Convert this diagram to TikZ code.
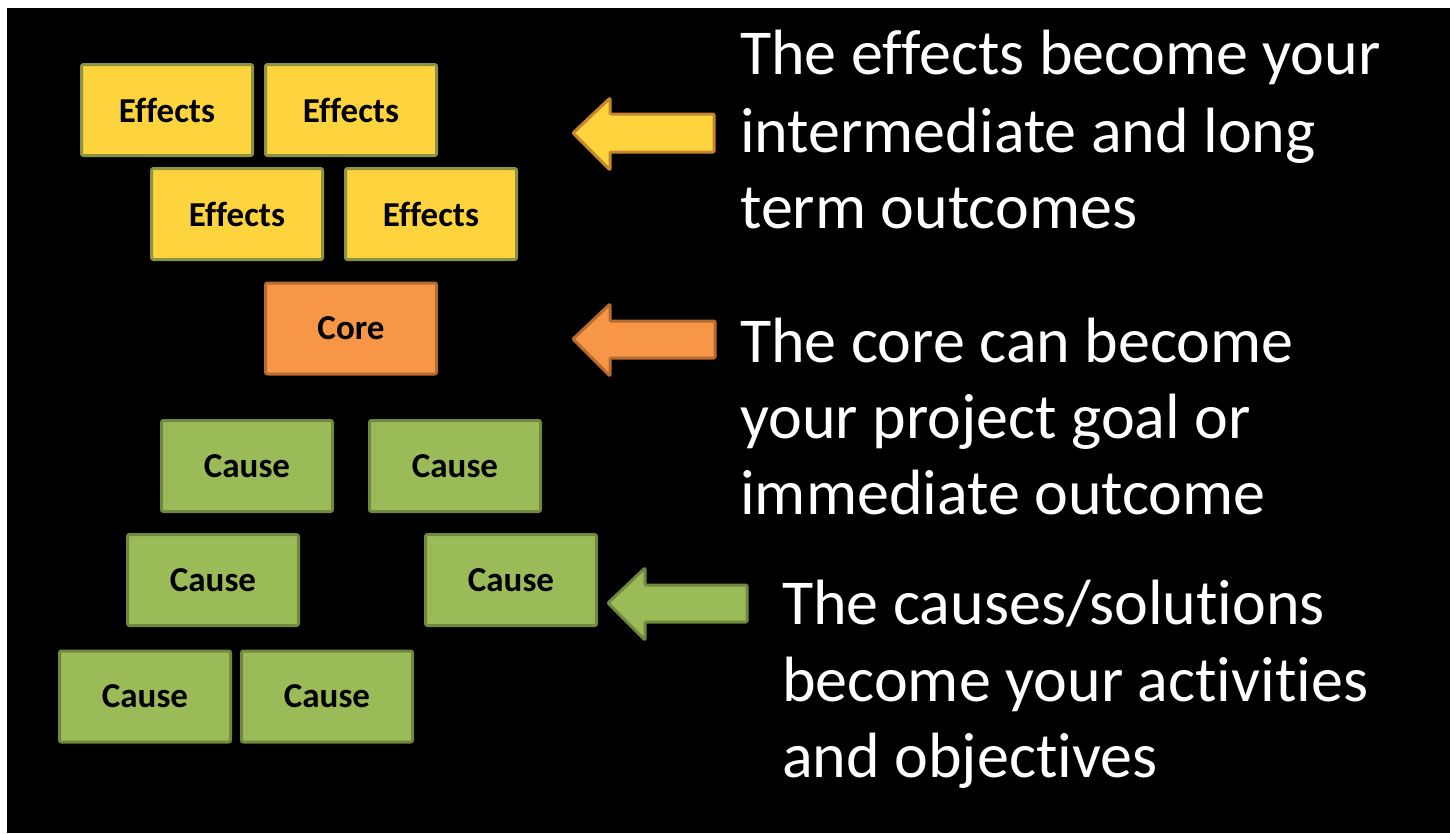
\documentclass[tikz,border=0pt]{standalone}
\usepackage{fontspec}
\setmainfont[Ligatures={NoCommon}]{Carlito}
\definecolor{yfill}{HTML}{FDD33E}
\definecolor{yedge}{HTML}{8C9444}
\definecolor{yarrowedge}{HTML}{C8862C}
\definecolor{ofill}{HTML}{F79646}
\definecolor{oedge}{HTML}{B66B30}
\definecolor{gfill}{HTML}{9BBB59}
\definecolor{gedge}{HTML}{71893F}
\tikzset{
  box/.style={draw, line width=3pt, rounded corners=2pt, minimum width=171pt, minimum height=91pt,
    inner sep=0pt, font=\fontsize{35}{40}\selectfont\bfseries, text=black},
  effbox/.style={box, fill=yfill, draw=yedge},
  corebox/.style={box, fill=ofill, draw=oedge},
  causebox/.style={box, fill=gfill, draw=gedge},
  blockarrow/.style={line width=3pt, line join=round, rounded corners=1pt},
  bigtext/.style={anchor=base west, inner sep=0pt, text=white, font=\fontsize{64}{77}\selectfont}
}
\begin{document}
\begin{tikzpicture}[x=1pt,y=-1pt]
\useasboundingbox (0,0) rectangle (1450,833);
\fill[white] (0,0) rectangle (1450,833);
\fill[black] (7,8) rectangle (1450,833);
% effects
\node[effbox] (E1) at (167,110) {Effects};
\node[effbox] (E2) at (351,110) {Effects};
\node[effbox] (E3) at (237,214) {Effects};
\node[effbox] (E4) at (431,214) {Effects};
% core
\node[corebox] (C) at (351,328.5) {Core};
% causes
\node[causebox] (K1) at (247,466) {Cause};
\node[causebox] (K2) at (455,466) {Cause};
\node[causebox] (K3) at (213,580) {Cause};
\node[causebox] (K4) at (511,580) {Cause};
\node[causebox] (K5) at (145,696.5) {Cause};
\node[causebox] (K6) at (327,696.5) {Cause};
% block arrows
\draw[blockarrow, fill=yfill, draw=yarrowedge]
  (573,133) -- (610,98) -- (610,114) -- (714,114) -- (714,152) -- (610,152) -- (610,170) -- cycle;
\draw[blockarrow, fill=ofill, draw=oedge]
  (573,339) -- (610,304) -- (610,321) -- (715,321) -- (715,358) -- (610,358) -- (610,376) -- cycle;
\draw[blockarrow, fill=gfill, draw=gedge]
  (608,603) -- (645,568) -- (645,585) -- (747,585) -- (747,622) -- (645,622) -- (645,640) -- cycle;
% texts
\node[bigtext] (t1) at (740,74) {The effects become your};
\node[bigtext] (t2) at (740,152) {intermediate and long};
\node[bigtext] (t3) at (740,228) {term outcomes};
\node[bigtext] (t4) at (740,362) {The core can become};
\node[bigtext] (t5) at (740,438) {your project goal or};
\node[bigtext] (t6) at (740,514) {immediate outcome};
\node[bigtext] (t7) at (782,624) {The causes/solutions};
\node[bigtext] (t8) at (782,701) {become your activities};
\node[bigtext] (t9) at (782,777) {and objectives};
\end{tikzpicture}
\end{document}
